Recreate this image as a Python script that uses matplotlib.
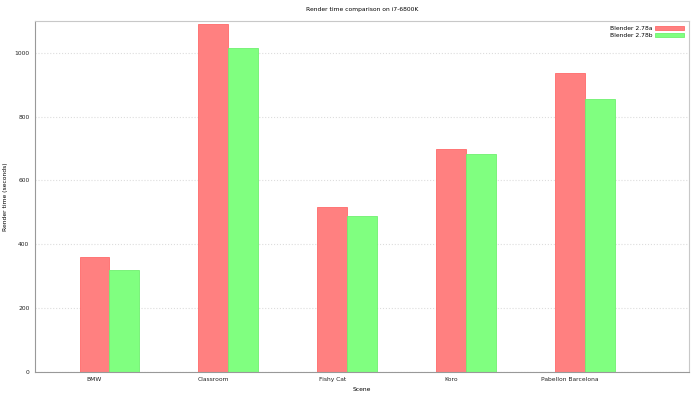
import numpy as np
import matplotlib.pyplot as plt

scenes = ['BMW', 'Classroom', 'Fishy Cat', 'Koro', 'Pabellon Barcelona']
blender_278a = [360, 1091, 518, 698, 938]
blender_278b = [320, 1014, 488, 684, 855]

plt.rcParams['font.family'] = 'DejaVu Sans'
plt.rcParams['font.size'] = 4.3

fig = plt.figure(figsize=(7, 3.94), dpi=100)
ax = fig.add_axes([0.05, 0.056, 0.934, 0.891])

x = np.arange(len(scenes))
w = 0.25
ax.bar(x, blender_278a, w, color='#ff8080', edgecolor='#ff6a6a',
       linewidth=0.6, label='Blender 2.78a', zorder=2)
ax.bar(x + w, blender_278b, w, color='#80ff80', edgecolor='#70f070',
       linewidth=0.6, label='Blender 2.78b', zorder=2)

ax.set_xlim(-0.5, 5.0)
ax.set_ylim(0, 1100)
ax.set_xticks(x)
ax.set_xticklabels(scenes)
ax.set_yticks(range(0, 1001, 200))
ax.tick_params(axis='both', length=0, pad=4, colors='#222222')
ax.grid(which='major', axis='y', color='#dddddd', linestyle=':', linewidth=0.8, zorder=0)

for side in ['top', 'right']:
    ax.spines[side].set_color('#c8c8c8')
for side in ['left', 'bottom']:
    ax.spines[side].set_color('#999999')
for s in ax.spines.values():
    s.set_linewidth(0.8)

ax.set_title('Render time comparison on i7-6800K', fontsize=4.3, pad=7)
ax.set_xlabel('Scene', fontsize=4.3)
ax.set_ylabel('Render time (seconds)', fontsize=4.3)
ax.xaxis.set_label_coords(0.5, -0.042)
ax.yaxis.set_label_coords(-0.042, 0.5)

ax.legend(loc='upper right', frameon=False, markerfirst=False,
          handlelength=4.8, handleheight=0.75, labelspacing=0.35,
          handletextpad=0.5, borderaxespad=0.4, fontsize=4.3)

plt.savefig('out.png', dpi=100)
plt.close()
